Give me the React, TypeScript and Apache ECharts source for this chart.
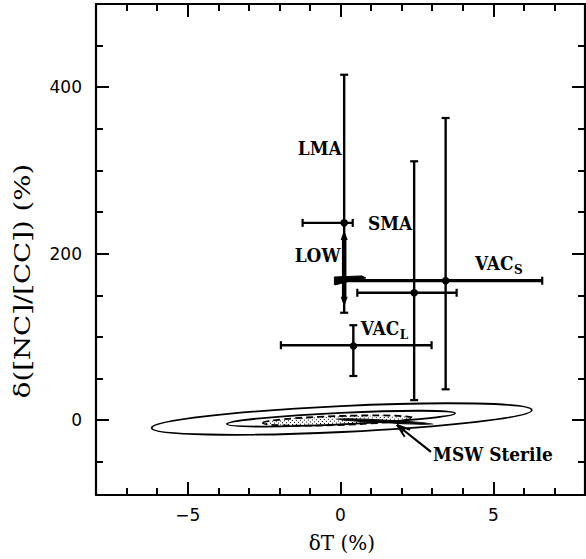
import React, { useEffect, useRef } from 'react';
import * as echarts from 'echarts';

// axis ticks
const xMajorTicks = [-5, 0, 5];
const xMinorTicks = [-7, -6, -4, -3, -2, -1, 1, 2, 3, 4, 6, 7];
const yMajorTicks = [0, 200, 400];
const yMinorTicks = [-50, 50, 100, 150, 250, 300, 350, 450];

// points with error bars
const pointNames = ['LMA', 'SMA', 'VAC_S', 'VAC_L'];
const pointX = [0.12, 2.41, 3.44, 0.42];
const pointY = [237, 153, 167.5, 90];
const xLow = [-1.24, 0.55, -0.18, -1.95];
const xHigh = [0.4, 3.8, 6.6, 2.98];
const yLow = [129, 24, 37, 53];
const yHigh = [415, 311, 363, 114];

// contours: [tip1 x, tip1 y, tip2 x, tip2 y, semi-minor (y units)]
const solidContours = [
  [-6.18, -9.5, 6.26, 12.1, 15.6],
  [-3.72, -4.7, 3.75, 8.2, 7],
];
const dashedContour = [[-2.54, -3.5, 2.37, 2.5, 5.4]];
const sterileBand = [[-0.11, 1.3, 3.03, -4.7, 1.6]];

// arrows: [from x, from y, to x, to y]
const lowArrow = [[0.12, 136.3, 0.12, 228.4]];
const sterileArrow = [[2.96, -38.3, 1.85, -5.9]];
const smaWedge = [[-0.18, 172], [0.7, 173.2], [0.83, 170.8], [0.31, 167.2], [-0.18, 162.4]];

// labels
const labelText = ['LMA', 'SMA', 'LOW', 'VAC', 'VAC', 'MSW Sterile'];
const labelSub = ['', '', '', 'S', 'L', ''];
const labelX = [0.04, 0.9, 0.0, 4.4, 0.66, 3.03];
const labelY = [327, 237, 197.8, 188.8, 110.7, -40.7];
const labelAnchor = ['right', 'left', 'right', 'left', 'left', 'left'];

const LABEL_FONT = 'bold 17px "DejaVu Serif"';
const SUB_FONT = 'bold 12px "DejaVu Serif"';

let measureCtx: CanvasRenderingContext2D | null = null;
function measure(text: string, font: string): number {
  if (!measureCtx) measureCtx = document.createElement('canvas').getContext('2d');
  if (!measureCtx) return text.length * 10;
  measureCtx.font = font;
  return measureCtx.measureText(text).width;
}

function makeStipple(): any {
  const c = document.createElement('canvas');
  c.width = 4;
  c.height = 4;
  const g = c.getContext('2d');
  if (g) {
    g.fillStyle = '#000';
    g.fillRect(0, 0, 1, 1);
    g.fillRect(2, 2, 1, 1);
  }
  return { image: c, repeat: 'repeat' };
}

function mkX(position: string, ticks: number[], len: number, labels: boolean, line: boolean) {
  return {
    type: 'value',
    min: -8,
    max: 8,
    position,
    axisLine: { show: line, onZero: false, lineStyle: { color: '#000', width: 2.2 } },
    axisTick: { show: true, inside: true, length: len, customValues: ticks, lineStyle: { color: '#000', width: 2 } },
    axisLabel: {
      show: labels,
      customValues: ticks,
      formatter: (v: number) => (v < 0 ? '\u2212' + Math.abs(v) : String(v)),
      color: '#000',
      fontFamily: 'DejaVu Sans',
      fontSize: 17,
      margin: 11,
    },
    splitLine: { show: false },
  };
}

function mkY(position: string, ticks: number[], len: number, labels: boolean, line: boolean) {
  return {
    type: 'value',
    min: -90,
    max: 500,
    position,
    axisLine: { show: line, onZero: false, lineStyle: { color: '#000', width: 2.2 } },
    axisTick: { show: true, inside: true, length: len, customValues: ticks, lineStyle: { color: '#000', width: 2 } },
    axisLabel: {
      show: labels,
      customValues: ticks,
      formatter: (v: number) => String(v),
      color: '#000',
      fontFamily: 'DejaVu Sans',
      fontSize: 17,
      margin: 14,
    },
    splitLine: { show: false },
  };
}

function ellipseRender(style: any) {
  return (params: any, api: any) => {
    const p1 = api.coord([api.value(0), api.value(1)]);
    const p2 = api.coord([api.value(2), api.value(3)]);
    const cx = (p1[0] + p2[0]) / 2;
    const cy = (p1[1] + p2[1]) / 2;
    const rx = Math.hypot(p2[0] - p1[0], p2[1] - p1[1]) / 2;
    const ry = api.size([0, api.value(4)])[1];
    const ang = Math.atan2(p2[1] - p1[1], p2[0] - p1[0]);
    return {
      type: 'ellipse',
      x: cx,
      y: cy,
      rotation: -ang,
      shape: { cx: 0, cy: 0, rx, ry },
      style,
    };
  };
}

export default function App() {
  const ref = useRef<HTMLDivElement>(null);
  useEffect(() => {
    if (!ref.current) return;
    const chart = echarts.init(ref.current, null, { renderer: 'svg' });
    const line = (a: number[], b: number[], w: number) => ({
      type: 'line',
      shape: { x1: a[0], y1: a[1], x2: b[0], y2: b[1] },
      style: { stroke: '#000', lineWidth: w, fill: null },
    });

    const errorRender = (params: any, api: any) => {
      const i = params.dataIndex;
      const x = api.value(0);
      const y = api.value(1);
      const c = api.coord([x, y]);
      const l = api.coord([api.value(2), y]);
      const r = api.coord([api.value(3), y]);
      const b = api.coord([x, api.value(4)]);
      const t = api.coord([x, api.value(5)]);
      const hw = pointNames[i] === 'VAC_S' ? 3.2 : 2.4;
      const cap = 4;
      return {
        type: 'group',
        children: [
          line(l, r, hw),
          line([l[0], l[1] - cap], [l[0], l[1] + cap], 2.2),
          line([r[0], r[1] - cap], [r[0], r[1] + cap], 2.2),
          line(b, t, 2.4),
          line([b[0] - cap, b[1]], [b[0] + cap, b[1]], 2.2),
          line([t[0] - cap, t[1]], [t[0] + cap, t[1]], 2.2),
          { type: 'circle', shape: { cx: c[0], cy: c[1], r: 3.8 }, style: { fill: '#000' } },
        ],
      };
    };

    const doubleArrowRender = (params: any, api: any) => {
      const p1 = api.coord([api.value(0), api.value(1)]);
      const p2 = api.coord([api.value(2), api.value(3)]);
      const d = Math.hypot(p2[0] - p1[0], p2[1] - p1[1]);
      const ux = (p2[0] - p1[0]) / d;
      const uy = (p2[1] - p1[1]) / d;
      const nx = -uy;
      const ny = ux;
      const L = 10;
      const W = 3.5;
      const head = (tip: number[], s: number) => ({
        type: 'polygon',
        shape: {
          points: [
            tip,
            [tip[0] - s * ux * L + nx * W, tip[1] - s * uy * L + ny * W],
            [tip[0] - s * ux * L - nx * W, tip[1] - s * uy * L - ny * W],
          ],
        },
        style: { fill: '#000' },
      });
      return {
        type: 'group',
        children: [
          line([p1[0] + ux * (L - 1), p1[1] + uy * (L - 1)], [p2[0] - ux * (L - 1), p2[1] - uy * (L - 1)], 4.5),
          head(p2, 1),
          head(p1, -1),
        ],
      };
    };

    const openArrowRender = (params: any, api: any) => {
      const p1 = api.coord([api.value(0), api.value(1)]);
      const p2 = api.coord([api.value(2), api.value(3)]);
      const ang = Math.atan2(p1[1] - p2[1], p1[0] - p2[0]);
      const L = 14;
      const barb = (da: number) => [p2[0] + L * Math.cos(ang + da), p2[1] + L * Math.sin(ang + da)];
      const barb2 = (da: number) => [p2[0] + 9 * Math.cos(ang + da), p2[1] + 9 * Math.sin(ang + da)];
      return {
        type: 'group',
        children: [
          line(p1, p2, 2.2),
          line(p2, barb(0.32), 2),
          line(p2, barb(-0.32), 2),
          line(p2, barb2(0.18), 1.5),
          line(p2, barb2(-0.18), 1.5),
        ],
      };
    };

    const wedgeRender = (params: any, api: any) => {
      if (params.dataIndex !== 0) return null;
      const pts = smaWedge.map((p) => api.coord(p));
      return {
        type: 'group',
        children: [
          { type: 'polygon', shape: { points: pts }, style: { fill: '#000', stroke: '#000', lineWidth: 1 } },
        ],
      };
    };

    const labelRender = (params: any, api: any) => {
      const i = params.dataIndex;
      const p = api.coord([api.value(0), api.value(1)]);
      const w = measure(labelText[i], LABEL_FONT);
      const ws = labelSub[i] ? measure(labelSub[i], SUB_FONT) : 0;
      const left = labelAnchor[i] === 'right' ? p[0] - w - ws : p[0];
      const children: any[] = [
        {
          type: 'text',
          x: left,
          y: p[1],
          scaleY: 1.12,
          style: {
            text: labelText[i],
            font: LABEL_FONT,
            fill: '#000',
            textAlign: 'left',
            align: 'left',
            textVerticalAlign: 'middle',
            verticalAlign: 'middle',
          },
        },
      ];
      if (labelSub[i]) {
        children.push({
          type: 'text',
          x: left + w + 0.5,
          y: p[1] + 7,
          style: {
            text: labelSub[i],
            font: SUB_FONT,
            fill: '#000',
            textAlign: 'left',
            align: 'left',
            textVerticalAlign: 'middle',
            verticalAlign: 'middle',
          },
        });
      }
      return { type: 'group', children };
    };

    const option: any = {
      animation: false,
      backgroundColor: '#fff',
      grid: { left: 96, top: 4, right: 1, bottom: 64, containLabel: false },
      xAxis: [
        mkX('bottom', xMajorTicks, 13, true, true),
        mkX('bottom', xMinorTicks, 7, false, false),
        mkX('top', xMajorTicks, 13, false, true),
        mkX('top', xMinorTicks, 7, false, false),
      ],
      yAxis: [
        mkY('left', yMajorTicks, 13, true, true),
        mkY('left', yMinorTicks, 7, false, false),
        mkY('right', yMajorTicks, 13, false, true),
        mkY('right', yMinorTicks, 7, false, false),
      ],
      graphic: [
        {
          type: 'text',
          x: 342,
          y: 543,
          style: {
            text: '\u03b4T (%)',
            font: '20px "DejaVu Serif"',
            fill: '#000',
            textAlign: 'center',
            align: 'center',
            textVerticalAlign: 'middle',
            verticalAlign: 'middle',
          },
        },
        {
          type: 'text',
          x: 22,
          y: 281,
          rotation: Math.PI / 2,
          scaleX: 1.2,
          style: {
            text: '\u03b4([NC]/[CC]) (%)',
            font: '23px "DejaVu Serif"',
            fill: '#000',
            textAlign: 'center',
            align: 'center',
            textVerticalAlign: 'middle',
            verticalAlign: 'middle',
          },
        },
      ],
      series: [
        {
          type: 'custom',
          name: 'contours',
          silent: true,
          xAxisIndex: 0,
          yAxisIndex: 0,
          data: solidContours,
          renderItem: ellipseRender({ fill: null, stroke: '#000', lineWidth: 1.8 }),
        },
        {
          type: 'custom',
          name: 'dashed contour',
          silent: true,
          xAxisIndex: 0,
          yAxisIndex: 0,
          data: dashedContour,
          renderItem: ellipseRender({ fill: makeStipple(), stroke: '#000', lineWidth: 1.8, lineDash: [7, 4] }),
        },
        {
          type: 'custom',
          name: 'MSW Sterile',
          silent: true,
          xAxisIndex: 0,
          yAxisIndex: 0,
          data: sterileBand,
          renderItem: ellipseRender({ fill: '#000', stroke: '#000', lineWidth: 1 }),
        },
        {
          type: 'custom',
          name: 'points',
          silent: true,
          xAxisIndex: 0,
          yAxisIndex: 0,
          data: pointX.map((x, i) => [x, pointY[i], xLow[i], xHigh[i], yLow[i], yHigh[i]]),
          renderItem: errorRender,
        },
        {
          type: 'custom',
          name: 'LOW',
          silent: true,
          xAxisIndex: 0,
          yAxisIndex: 0,
          data: lowArrow,
          renderItem: doubleArrowRender,
        },
        {
          type: 'custom',
          name: 'SMA wedge',
          silent: true,
          xAxisIndex: 0,
          yAxisIndex: 0,
          data: smaWedge,
          renderItem: wedgeRender,
        },
        {
          type: 'custom',
          name: 'sterile arrow',
          silent: true,
          xAxisIndex: 0,
          yAxisIndex: 0,
          data: sterileArrow,
          renderItem: openArrowRender,
        },
        {
          type: 'custom',
          name: 'labels',
          silent: true,
          xAxisIndex: 0,
          yAxisIndex: 0,
          data: labelX.map((x, i) => [x, labelY[i]]),
          renderItem: labelRender,
        },
      ],
    };
    chart.setOption(option);
    return () => chart.dispose();
  }, []);
  return (
    <div
      ref={ref}
      style={{ position: 'absolute', left: 0, top: 0, width: 586, height: 559, background: '#fff' }}
    />
  );
}
